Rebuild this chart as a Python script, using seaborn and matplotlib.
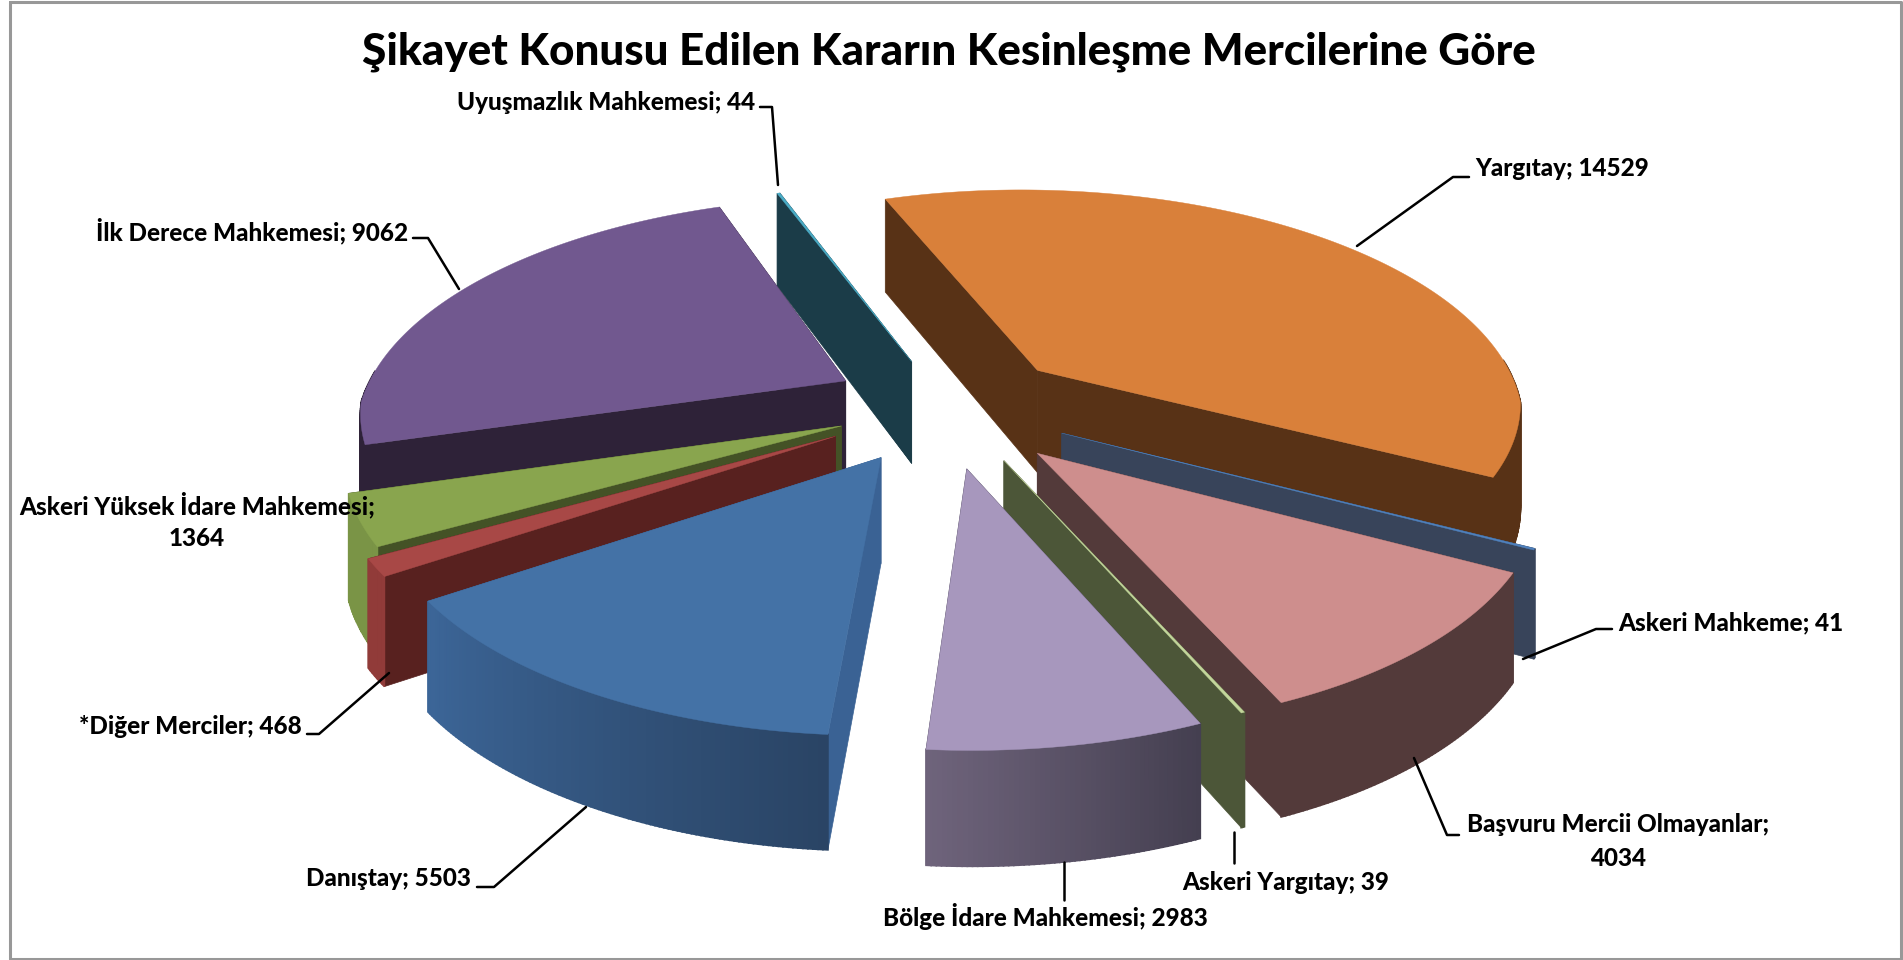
import numpy as np
import matplotlib
matplotlib.use("Agg")
import matplotlib.pyplot as plt
import seaborn as sns

# values as printed on the slices, clockwise starting from Yargitay
names = ["Yargıtay", "Askeri Mahkeme", "Başvuru Mercii Olmayanlar", "Askeri Yargıtay",
         "Bölge İdare Mahkemesi", "Danıştay", "*Diğer Merciler",
         "Askeri Yüksek İdare Mahkemesi", "İlk Derece Mahkemesi", "Uyuşmazlık Mahkemesi"]
values = [14529, 41, 4034, 39, 2983, 5503, 468, 1364, 9062, 44]

# look of the fake 3d pie
top_colors = ["#D9803A", "#4F81BD", "#CE8E8D", "#C3D69B", "#A797BD",
              "#4472A6", "#A84846", "#89A54E", "#71588F", "#4BACC6"]
wall_left = ["#583216", "#38445A", "#533A3A", "#4C5638", "#6F647C",
             "#3C6698", "#913B39", "#7A9446", "#2E2238", "#1B3C48"]
wall_right = ["#583216", "#38445A", "#533A3A", "#4C5638", "#443F50",
              "#2A4465", "#913B39", "#7A9446", "#2E2238", "#1B3C48"]
radial_colors = ["#583216", "#38445A", "#533A3A", "#4C5638", "#443F50",
                 "#3A6294", "#58211F", "#445226", "#2E2238", "#1B3C48"]
explode = [0.26, 0.29, 0.30, 0.285, 0.29, 0.26, 0.25, 0.217, 0.21, 0.19]
explode_turn = [8, 0, 0, -5, -3, -6, -5, -6, 0, 5]
draw_order = [0, 9, 8, 7, 1, 2, 3, 4, 6, 5]

START = -20.0
CX, CY = 935.0, 402.0
RX, RY = 485.0, 228.0
DEPTH = 104.0
PERSP_FAR = 5.0
PERSP_NEAR = 8.0


def project(x, y, z):
    s = PERSP_FAR / (PERSP_FAR - y) if y < 0 else PERSP_NEAR / (PERSP_NEAR - y)
    # walls shrink less with distance than the top face does
    sd = 1 + 0.6 * (s - 1)
    return CX + RX * x * s, CY + RY * y * s + DEPTH * z * sd


def direction(a):
    r = np.radians(a)
    return np.sin(r), -np.cos(r)


def draw_slice(ax, a0, a1, exp, turn, top, wl, wr, rad):
    mx, my = direction((a0 + a1) / 2 + turn)
    ox, oy = exp * mx, exp * my
    angles = np.linspace(a0, a1, max(int(a1 - a0) * 2, 3))
    ux, uy = direction(angles)
    px, py = ox + ux, oy + uy

    # radial walls
    for a in (a0, a1):
        dx, dy = direction(a)
        corners = [(ox, oy, 0), (ox + dx, oy + dy, 0), (ox + dx, oy + dy, 1), (ox, oy, 1)]
        xy = [project(*c) for c in corners]
        ax.fill(*zip(*xy), color=rad, lw=0.5, zorder=2)

    # outer wall, only the part facing the viewer, in small shaded strips
    colors = sns.blend_palette([wl, wr], len(angles))
    xs = np.array([project(a, b, 0)[0] for a, b in zip(px, py)])
    rank = np.argsort(xs)
    shade = np.empty(len(angles), dtype=int)
    shade[rank] = np.arange(len(angles))
    for i in range(len(angles) - 1):
        mid = (angles[i] + angles[i + 1]) / 2
        if np.cos(np.radians(mid)) > 0.05:
            continue
        corners = [(px[i], py[i], 0), (px[i + 1], py[i + 1], 0),
                   (px[i + 1], py[i + 1], 1), (px[i], py[i], 1)]
        xy = [project(*c) for c in corners]
        ax.fill(*zip(*xy), color=colors[shade[i]], lw=1.2, zorder=2)

    # top face
    tx = np.r_[ox, px]
    ty = np.r_[oy, py]
    xy = [project(a, b, 0) for a, b in zip(tx, ty)]
    ax.fill(*zip(*xy), color=top, lw=0.3, zorder=2)


def main():
    sns.set_theme(style="white")
    plt.rcParams["font.family"] = ["Lato", "DejaVu Sans"]
    plt.rcParams["font.weight"] = 900
    plt.rcParams["text.color"] = "black"

    fig = plt.figure(figsize=(19.03, 9.60), dpi=100)
    ax = fig.add_axes([0, 0, 1, 1])
    ax.set_xlim(0, 1903)
    ax.set_ylim(960, 0)
    ax.axis("off")

    spans = np.array(values) / sum(values) * 360
    ends = START + np.cumsum(spans)
    starts = ends - spans
    for i in draw_order:
        draw_slice(ax, starts[i], ends[i], explode[i], explode_turn[i], top_colors[i],
                   wall_left[i], wall_right[i], radial_colors[i])

    # chart frame
    ax.plot([10, 10, 1901, 1901, 10], [2, 959, 959, 2, 2], color="#989898", lw=2.2, zorder=1)

    ax.text(949, 52, "Şikayet Konusu Edilen Kararın Kesinleşme Mercilerine Göre",
            ha="center", va="center", fontsize=31.7, zorder=5)

    fs = 17.5
    labels = [
        (0, 1475, 169, "left", [(1357, 246), (1453, 177), (1469, 177)]),
        (1, 1618, 623, "left", [(1523, 659), (1596, 629), (1612, 629)]),
        (3, 1182, 882, "left", [(1234, 832), (1234, 863)]),
        (5, 471, 879, "right", [(477, 887), (494, 887), (586, 807)]),
        (6, 302, 727, "right", [(307, 734), (319, 734), (389, 673)]),
        (8, 408, 231, "right", [(413, 238), (428, 238), (459, 289)]),
        (9, 755, 103, "right", [(760, 107), (772, 107), (778, 185)]),
        (4, 1045, 917, "center", [(1064, 862), (1064, 900)]),
    ]
    for i, x, y, ha, leader in labels:
        ax.text(x, y, f"{names[i]}; {values[i]}", ha=ha, va="center", fontsize=fs, zorder=6)
        ax.plot(*zip(*leader), color="black", lw=1.8, zorder=5)

    # the two labels that wrap on two lines
    ax.text(1618, 825, f"{names[2]};", ha="center", va="center", fontsize=fs, zorder=6)
    ax.text(1618, 858, str(values[2]), ha="center", va="center", fontsize=fs, zorder=6)
    ax.plot([1414, 1447, 1459], [758, 835, 835], color="black", lw=1.8, zorder=5)
    ax.text(197, 505, f"{names[7]};", ha="center", va="center", fontsize=fs, zorder=6)
    ax.text(197, 538, str(values[7]), ha="center", va="center", fontsize=fs, zorder=6)

    fig.savefig("out.png", dpi=100, facecolor="white")
    plt.close(fig)


if __name__ == "__main__":
    main()
